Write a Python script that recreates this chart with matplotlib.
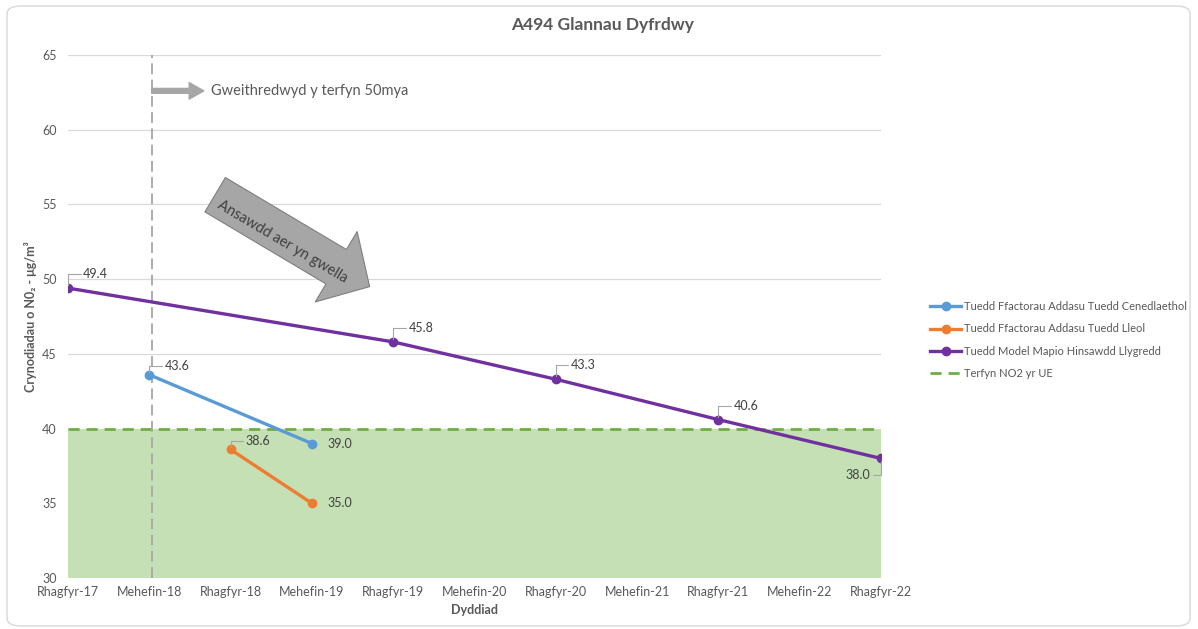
import matplotlib
matplotlib.use("Agg")
import matplotlib.pyplot as plt
from matplotlib.patches import FancyBboxPatch
import numpy as np

plt.rcParams['font.family'] = ['Lato', 'DejaVu Sans']

categories = ["Rhagfyr-17", "Mehefin-18", "Rhagfyr-18", "Mehefin-19", "Rhagfyr-19",
              "Mehefin-20", "Rhagfyr-20", "Mehefin-21", "Rhagfyr-21", "Mehefin-22", "Rhagfyr-22"]
national_x = ["Mehefin-18", "Mehefin-19"]
national_y = [43.6, 39.0]
local_x = ["Rhagfyr-18", "Mehefin-19"]
local_y = [38.6, 35.0]
model_x = ["Rhagfyr-17", "Rhagfyr-19", "Rhagfyr-20", "Rhagfyr-21", "Rhagfyr-22"]
model_y = [49.4, 45.8, 43.3, 40.6, 38.0]
limit_value = 40
y_ticks = [30, 35, 40, 45, 50, 55, 60, 65]

series_names = ["Tuedd Ffactorau Addasu Tuedd Cenedlaethol",
                "Tuedd Ffactorau Addasu Tuedd Lleol",
                "Tuedd Model Mapio Hinsawdd Llygredd",
                "Terfyn NO2 yr UE"]

pos = {c: i for i, c in enumerate(categories)}
tc = '#595959'

fig = plt.figure(figsize=(11.98, 6.29), dpi=100)
fig.patches.append(FancyBboxPatch((7/1198, 3/629), 1183/1198, 620/629,
                                  boxstyle="round,pad=0,rounding_size=0.012",
                                  transform=fig.transFigure, fc='none', ec='#d9d9d9', lw=1,
                                  zorder=-5))
ax = fig.add_axes([68/1198, 1-578/629, 813/1198, 523/629])
ax.set_xlim(0, len(categories)-1)
ax.set_ylim(30, 65)
for s in ax.spines.values():
    s.set_visible(False)
ax.set_yticks(y_ticks)
ax.set_xticks(range(len(categories)))
ax.set_xticklabels(categories)
ax.tick_params(axis='both', length=0, colors=tc, labelsize=9)
ax.tick_params(axis='y', pad=8)
ax.tick_params(axis='x', pad=6)
ax.grid(axis='y', color='#d9d9d9', lw=0.9)
ax.set_axisbelow(True)

# green zone and limit
ax.axhspan(30, limit_value, color='#c5e0b4', zorder=1, lw=0)
ax.axhline(limit_value, color='#70ad47', ls=(0, (4, 2.5)), lw=2, zorder=2)

# vertical dashed line at Mehefin-18
ax.axvline(pos["Mehefin-18"] + 0.03, color='#a6a6a6', ls=(0, (6, 3)), lw=1.3, zorder=2)

nx = [pos[c] for c in national_x]
lx = [pos[c] for c in local_x]
mx = [pos[c] for c in model_x]
ax.plot(nx, national_y, '-o', color='#5b9bd5', lw=2.4, ms=6, zorder=4)
ax.plot(lx, local_y, '-o', color='#ed7d31', lw=2.4, ms=6, zorder=4)
ax.plot(mx, model_y, '-o', color='#7030a0', lw=2.4, ms=6, zorder=4)

lead = dict(arrowstyle='-', color='#a6a6a6', lw=0.8,
            connectionstyle='angle,angleA=0,angleB=90,rad=0', shrinkA=0, shrinkB=2)

def lab(x, y, dx, dy, ha='left', leader=True):
    ax.annotate(f"{y:.1f}", xy=(x, y), xytext=(dx, dy), textcoords='offset points',
                ha=ha, va='center', fontsize=9, color='#404040', zorder=6,
                arrowprops=lead if leader else None)

lab(mx[0], model_y[0], 11, 10)
for x, y in zip(mx[1:4], model_y[1:4]):
    lab(x, y, 11, 10)
lab(mx[4], model_y[4], -8, -12, ha='right')
lab(nx[0], national_y[0], 11, 6)
lab(nx[1], national_y[1], 11, 0, leader=False)
lab(lx[0], local_y[0], 11, 6)
lab(lx[1], local_y[1], 11, 0, leader=False)

# small arrow and text
ax.annotate('', xy=(pos["Mehefin-18"] + 0.67, 62.6), xytext=(pos["Mehefin-18"] + 0.03, 62.6),
            arrowprops=dict(arrowstyle='simple,head_length=0.75,head_width=0.85,tail_width=0.25',
                            fc='#a6a6a6', ec='#a6a6a6', shrinkA=0, shrinkB=0, mutation_scale=14), zorder=5)
ax.text(pos["Mehefin-18"] + 0.76, 62.6, "Gweithredwyd y terfyn 50mya", fontsize=10.5,
        color='#595959', va='center', ha='left')

# big arrow
ax.annotate('', xy=(3.71, 49.5), xytext=(1.81, 55.65),
            arrowprops=dict(arrowstyle='simple,head_length=1.4,head_width=2.95,tail_width=1.44',
                            fc='#a6a6a6', ec='#7f7f7f', lw=0.8, shrinkA=0, shrinkB=0,
                            mutation_scale=20), zorder=5)
ax.text(2.64, 52.5, "Ansawdd aer yn gwella", rotation=-30.6, rotation_mode='anchor',
        ha='center', va='center', fontsize=10.5, color='#404040', zorder=6)

ax.set_title("A494 Glannau Dyfrdwy", fontsize=12.5, fontweight='bold', color=tc,
             x=(603-68)/813, pad=18)
ax.set_xlabel("Dyddiad", fontsize=9, fontweight='bold', color=tc, labelpad=4)
ax.set_ylabel("Crynodiadau o N0₂ - μg/m³", fontsize=9, fontweight='bold', color=tc, labelpad=4)

handles = [plt.Line2D([], [], color='#5b9bd5', lw=2.4, marker='o', ms=6),
           plt.Line2D([], [], color='#ed7d31', lw=2.4, marker='o', ms=6),
           plt.Line2D([], [], color='#7030a0', lw=2.4, marker='o', ms=6),
           plt.Line2D([], [], color='#70ad47', lw=2, ls=(0, (4, 2.5)))]
fig.legend(handles, series_names, loc='center left', bbox_to_anchor=(920/1198, 1-340/629),
           frameon=False, fontsize=8, labelcolor=tc, handlelength=2.8, handletextpad=0.3,
           labelspacing=1.0)

fig.savefig("out.png", dpi=100)
